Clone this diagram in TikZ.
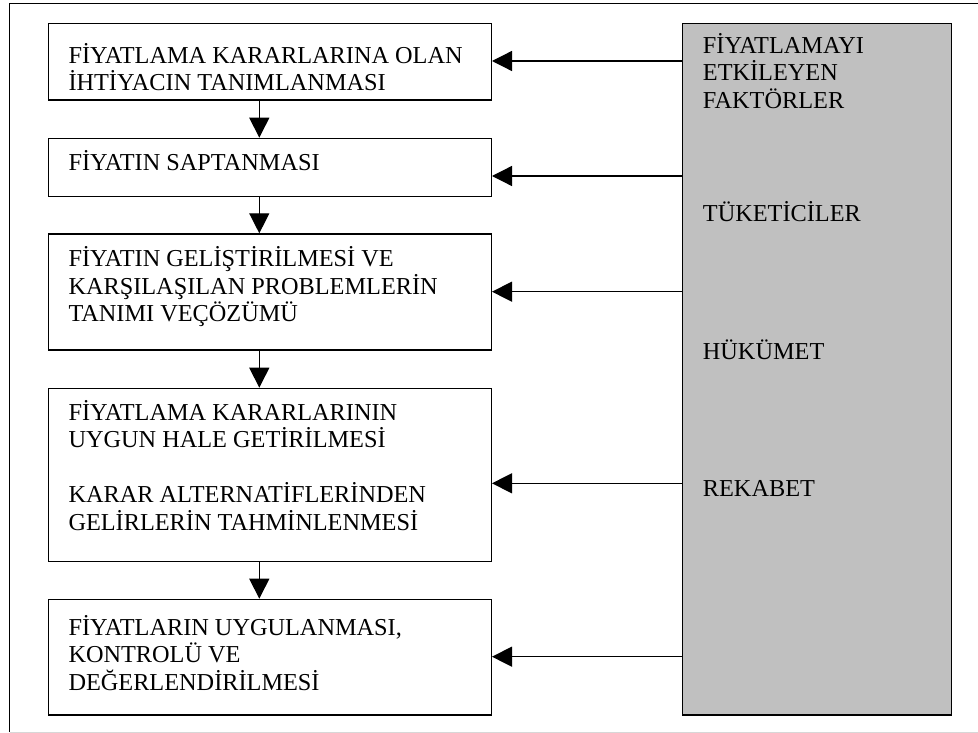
\documentclass[tikz,border=0pt]{standalone}
\usepackage{fontspec}
\setmainfont{Liberation Serif}
\usetikzlibrary{arrows.meta}
\definecolor{silverg}{RGB}{192,192,192}
\definecolor{framegray}{RGB}{215,215,215}
\newcommand{\vlines}[1]{\vtop{\lineskiplimit=-100pt\baselineskip=27.5pt #1}}
\begin{document}
\begin{tikzpicture}[x=1pt,y=-1pt,
  stepbox/.style={draw=black,line width=1.3pt,rectangle,inner sep=0pt,anchor=north west,minimum width=443pt},
  graybox/.style={draw=black,line width=1.3pt,fill=silverg,rectangle,inner sep=0pt,anchor=north west,minimum width=269pt},
  txt/.style={inner sep=0pt,anchor=base west,font=\fontsize{24.3}{27.5}\selectfont},
  arr/.style={line width=1.3pt,-{Triangle[length=20pt,width=20pt]}}]
\useasboundingbox (0,0) rectangle (978,733);
% outer frame
\draw[line width=1pt] (9.5,732) -- (9.5,4) -- (978,4);
\draw[framegray,line width=1pt] (9.5,732) -- (978,732);
% boxes
\node[stepbox,minimum height=76.3pt] (b1) at (47.7,23) {};
\node[stepbox,minimum height=58pt] (b2) at (47.7,137.7) {};
\node[stepbox,minimum height=116pt] (b3) at (47.7,233.3) {};
\node[stepbox,minimum height=173pt] (b4) at (47.7,387.7) {};
\node[stepbox,minimum height=115.6pt] (b5) at (47.7,598.7) {};
\node[graybox,minimum height=691.3pt] (g) at (681.7,23) {};
% texts
\node[txt] (t1) at (68.3,63.3) {\vlines{\hbox{FİYATLAMA KARARLARINA OLAN}\hbox{İHTİYACIN TANIMLANMASI}}};
\node[txt] (t2) at (68.3,171) {FİYATIN SAPTANMASI};
\node[txt] (t3) at (68.3,266.7) {\vlines{\hbox{FİYATIN GELİŞTİRİLMESİ VE}\hbox{KARŞILAŞILAN PROBLEMLERİN}\hbox{TANIMI VEÇÖZÜMÜ}}};
\node[txt] (t4) at (68.3,420) {\vlines{\hbox{FİYATLAMA KARARLARININ}\hbox{UYGUN HALE GETİRİLMESİ}\hbox{}\hbox{KARAR ALTERNATİFLERİNDEN}\hbox{GELİRLERİN TAHMİNLENMESİ}}};
\node[txt] (t5) at (68.3,635) {\vlines{\hbox{FİYATLARIN UYGULANMASI,}\hbox{KONTROLÜ VE}\hbox{DEĞERLENDİRİLMESİ}}};
\node[txt] (ra) at (702.7,53.3) {\vlines{\hbox{FİYATLAMAYI}\hbox{ETKİLEYEN}\hbox{FAKTÖRLER}}};
\node[txt] (rb) at (702.7,221.7) {TÜKETİCİLER};
\node[txt] (rc) at (702.7,359) {HÜKÜMET};
\node[txt] (rd) at (702.7,496.7) {REKABET};
% vertical arrows
\coordinate (ax) at (259.3,0);
\draw[arr] (b1.south -| ax) -- (b2.north -| ax);
\draw[arr] (b2.south -| ax) -- (b3.north -| ax);
\draw[arr] (b3.south -| ax) -- (b4.north -| ax);
\draw[arr] (b4.south -| ax) -- (b5.north -| ax);
% horizontal arrows
\coordinate (h1) at (0,61);
\coordinate (h2) at (0,176);
\coordinate (h3) at (0,291.7);
\coordinate (h4) at (0,483.3);
\coordinate (h5) at (0,656.7);
\draw[arr] (g.west |- h1) -- (b1.east |- h1);
\draw[arr] (g.west |- h2) -- (b2.east |- h2);
\draw[arr] (g.west |- h3) -- (b3.east |- h3);
\draw[arr] (g.west |- h4) -- (b4.east |- h4);
\draw[arr] (g.west |- h5) -- (b5.east |- h5);
\end{tikzpicture}
\end{document}
